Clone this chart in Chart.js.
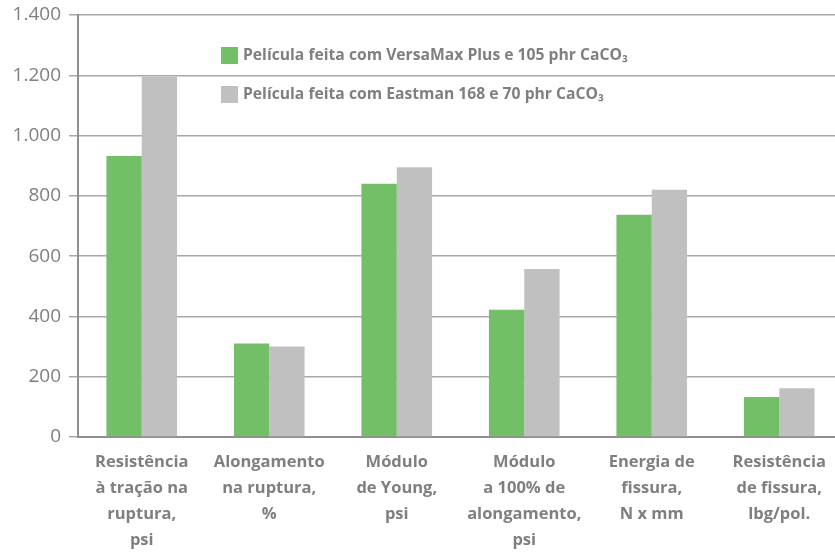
<!DOCTYPE html>
<html>
<head>
<meta charset="utf-8">
<script src="https://cdn.jsdelivr.net/npm/chart.js@4/dist/chart.umd.min.js"></script>
<style>
  html, body { margin: 0; padding: 0; background: #fff; overflow: hidden; }
  #wrap { width: 843px; height: 557px; }
</style>
</head>
<body>
<div id="wrap"><canvas id="propChart" width="843" height="557"></canvas></div>
<script>
/* ================= DATA ================= */
const categories = [
    ["Resistência", "à tração na", "ruptura,", "psi"],
    ["Alongamento", "na ruptura,", "%"],
    ["Módulo", "de Young,", "psi"],
    ["Módulo", "a 100% de", "alongamento,", "psi"],
    ["Energia de", "fissura,", "N x mm"],
    ["Resistência", "de fissura,", "lbg/pol."]
];
const versaMax = [932, 310, 840, 422, 737, 133];
const eastman = [1195, 300, 895, 557, 820, 162];
const seriesNames = [
    "Película feita com VersaMax Plus e 105 phr CaCO₃",
    "Película feita com Eastman 168 e 70 phr CaCO₃"
];
const yTickLabels = ["0", "200", "400", "600", "800", "1.000", "1.200", "1.400"];

const GREEN = "#73bf68";
const GRAY = "#c0c0c1";
const TEXT = "#7f7f7f";

/* ================= LEGEND (inside plot) ================= */
const insideLegend = {
    id: "insideLegend",
    afterDraw(chart) {
        const ctx = chart.ctx;
        ctx.save();
        ctx.font = "bold 15.7px 'Open Sans'";
        ctx.textBaseline = "middle";
        chart.data.datasets.forEach((ds, i) => {
            const y = 47 + i * 39;
            ctx.fillStyle = ds.backgroundColor;
            ctx.fillRect(221, y, 17, 17);
            ctx.fillStyle = TEXT;
            ctx.fillText(ds.label, 243, y + 9);
        });
        ctx.restore();
    }
};

/* ================= CHART ================= */
new Chart(document.getElementById("propChart"), {
    type: "bar",
    data: {
        labels: categories,
        datasets: [
            { label: seriesNames[0], data: versaMax, backgroundColor: GREEN },
            { label: seriesNames[1], data: eastman, backgroundColor: GRAY }
        ]
    },
    options: {
        responsive: false,
        animation: false,
        layout: { padding: { top: 15, left: 0, right: 0, bottom: 0 } },
        datasets: { bar: { categoryPercentage: 0.554, barPercentage: 1 } },
        plugins: {
            legend: { display: false },
            tooltip: { enabled: false }
        },
        scales: {
            x: {
                grid: { display: false, drawTicks: false },
                border: { display: true, color: "#8f8f8f", width: 2 },
                ticks: {
                    color: TEXT,
                    padding: 12,
                    maxRotation: 0,
                    autoSkip: false,
                    font: { family: "'Open Sans'", size: 16.5, weight: "bold", lineHeight: 1.58 }
                },
                afterFit(s) { s.height = 120; }
            },
            y: {
                min: 0,
                max: 1400,
                ticks: {
                    stepSize: 200,
                    color: TEXT,
                    padding: 8,
                    font: { family: "'Open Sans'", size: 19 },
                    callback: (v, i) => yTickLabels[i]
                },
                grid: { color: "#a8a8a8", lineWidth: 1.5, tickLength: 9 },
                border: { display: true, color: "#8f8f8f", width: 2 },
                afterFit(s) { s.width = 78; s.paddingTop = 0; s.paddingBottom = 0; }
            }
        }
    },
    plugins: [insideLegend]
});
</script>
</body>
</html>
